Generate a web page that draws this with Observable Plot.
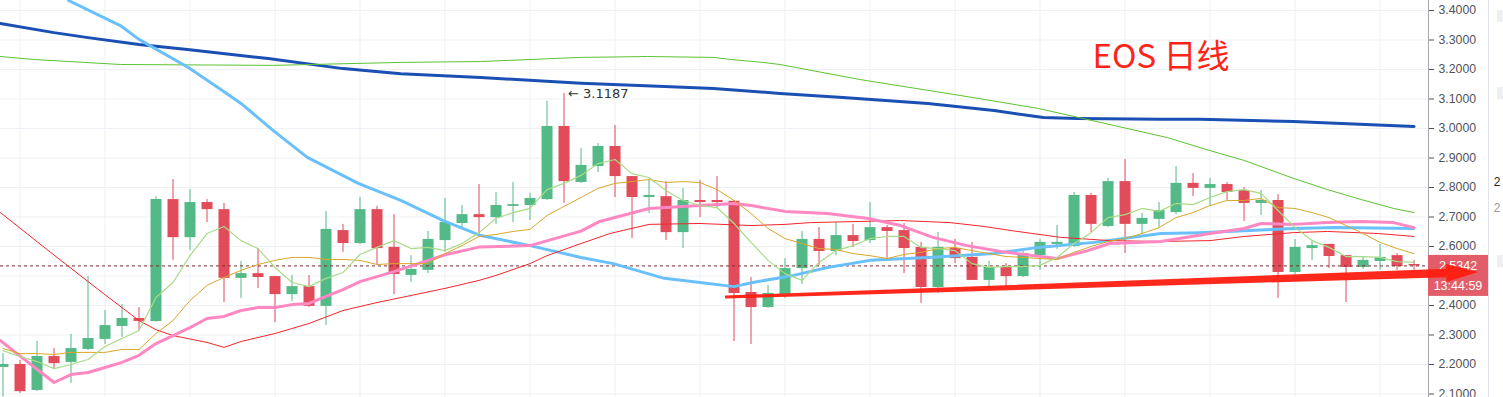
<!DOCTYPE html>
<html><head><meta charset="utf-8">
<script src="https://cdn.jsdelivr.net/npm/d3@7"></script>
<script src="https://cdn.jsdelivr.net/npm/@observablehq/plot@0.6"></script>
<style>
html,body{margin:0;padding:0;background:#fff;overflow:hidden}
#chart svg{display:block}
</style></head><body><div id="chart"></div>
<script>
// ---- Daily candles (index 0..83) ----
const openP  = [2.190,2.200,2.112,2.227,2.207,2.251,2.285,2.329,2.356,2.346,
                2.759,2.630,2.749,2.725,2.492,2.508,2.498,2.437,2.464,2.397,
                2.654,2.610,2.725,2.597,2.502,2.519,2.620,2.678,2.708,2.698,
                2.736,2.739,2.759,3.007,2.817,2.871,2.939,2.837,2.766,2.769,
                2.647,2.756,2.756,2.753,2.444,2.393,2.437,2.525,2.624,2.583,
                2.637,2.620,2.664,2.654,2.597,2.461,2.593,2.563,2.485,2.529,
                2.498,2.569,2.607,2.600,2.773,2.668,2.820,2.675,2.692,2.715,
                2.814,2.797,2.810,2.790,2.746,2.756,2.512,2.593,2.607,2.569,
                2.529,2.549,2.569,2.539];
const highP  = [2.237,2.214,2.278,2.254,2.302,2.498,2.383,2.403,2.393,2.769,
                2.827,2.793,2.759,2.746,2.549,2.593,2.498,2.502,2.502,2.719,
                2.675,2.766,2.736,2.708,2.569,2.651,2.763,2.739,2.810,2.783,
                2.817,2.780,3.092,3.1187,2.932,2.949,3.010,2.837,2.827,2.820,
                2.797,2.824,2.837,2.756,2.495,2.468,2.559,2.651,2.664,2.681,
                2.675,2.749,2.671,2.678,2.614,2.647,2.624,2.614,2.549,2.542,
                2.583,2.624,2.671,2.783,2.780,2.831,2.895,2.712,2.749,2.871,
                2.847,2.831,2.817,2.800,2.790,2.776,2.624,2.620,2.607,2.569,
                2.566,2.607,2.576,2.553];
const lowP   = [2.090,2.102,2.108,2.186,2.136,2.247,2.268,2.292,2.315,2.343,
                2.553,2.586,2.681,2.410,2.424,2.458,2.342,2.414,2.393,2.332,
                2.580,2.607,2.536,2.437,2.478,2.508,2.580,2.664,2.637,2.675,
                2.681,2.688,2.756,2.746,2.814,2.851,2.766,2.627,2.712,2.620,
                2.593,2.698,2.732,2.278,2.268,2.390,2.424,2.471,2.536,2.569,
                2.597,2.610,2.559,2.508,2.407,2.441,2.542,2.485,2.461,2.461,
                2.495,2.519,2.590,2.597,2.647,2.664,2.576,2.641,2.664,2.708,
                2.769,2.736,2.756,2.685,2.705,2.424,2.502,2.553,2.525,2.410,
                2.522,2.519,2.519,2.519];
const closeP = [2.200,2.108,2.227,2.203,2.254,2.288,2.332,2.356,2.346,2.759,
                2.630,2.749,2.725,2.492,2.508,2.495,2.437,2.464,2.397,2.658,
                2.610,2.725,2.593,2.505,2.522,2.624,2.681,2.708,2.698,2.739,
                2.742,2.763,3.007,2.820,2.875,2.939,2.837,2.766,2.773,2.647,
                2.756,2.749,2.749,2.441,2.393,2.441,2.525,2.624,2.583,2.637,
                2.617,2.664,2.651,2.593,2.461,2.597,2.559,2.485,2.529,2.498,
                2.576,2.614,2.614,2.773,2.675,2.820,2.675,2.695,2.722,2.814,
                2.797,2.810,2.783,2.746,2.756,2.512,2.597,2.603,2.566,2.529,
                2.553,2.563,2.532,2.5342];

// ---- Moving averages ----
const ma5 = [2.247,2.227,2.210,2.186,2.200,2.217,2.261,2.288,2.315,2.427,
             2.478,2.569,2.644,2.668,2.620,2.593,2.529,2.478,2.464,2.492,
             2.512,2.573,2.597,2.620,2.593,2.597,2.586,2.610,2.647,2.695,
             2.715,2.729,2.793,2.814,2.841,2.881,2.895,2.847,2.834,2.790,
             2.756,2.739,2.732,2.678,2.614,2.553,2.508,2.485,2.546,2.586,
             2.603,2.627,2.634,2.634,2.597,2.593,2.586,2.542,2.529,2.532,
             2.532,2.536,2.563,2.610,2.647,2.698,2.708,2.729,2.719,2.746,
             2.742,2.766,2.786,2.793,2.780,2.722,2.664,2.620,2.597,2.566,
             2.566,2.563,2.549,2.546];
const ma10 = [2.254,2.237,2.237,2.234,2.241,2.241,2.241,2.251,2.251,2.305,
              2.349,2.417,2.468,2.495,2.519,2.539,2.553,2.563,2.563,2.556,
              2.556,2.553,2.539,2.542,2.542,2.542,2.576,2.603,2.634,2.641,
              2.651,2.658,2.705,2.736,2.766,2.797,2.814,2.820,2.827,2.817,
              2.820,2.817,2.793,2.756,2.712,2.661,2.627,2.610,2.593,2.590,
              2.576,2.569,2.559,2.573,2.580,2.593,2.597,2.586,2.576,2.566,
              2.563,2.559,2.556,2.580,2.600,2.617,2.627,2.644,2.664,2.698,
              2.715,2.739,2.756,2.756,2.763,2.732,2.729,2.715,2.698,2.671,
              2.644,2.614,2.593,2.576];
const ma20 = [[-0.15,2.281],[3,2.139],[4,2.166],[5,2.173],[6,2.190],[7,2.207],[8,2.231],
              [9,2.271],[10,2.298],[11,2.325],[12,2.356],[13,2.363],[14,2.383],[15,2.393],
              [16,2.393],[17,2.403],[18,2.407],[19,2.431],[20,2.454],[21,2.481],[22,2.498],
              [23,2.515],[25,2.553],[26,2.572],[28,2.598],[31,2.603],[34,2.652],[35.1,2.685],
              [38,2.729],[39,2.732],[42,2.742],[43,2.746],[44,2.739],[46,2.719],[48.5,2.712],
              [50.9,2.695],[52.8,2.671],[54.7,2.631],[56.7,2.603],[58.7,2.583],[62,2.559],
              [63.8,2.586],[65.1,2.610],[68.1,2.617],[71,2.644],[73,2.661],[74,2.678],
              [75.9,2.675],[77.9,2.681],[79.9,2.685],[81.8,2.681],[83,2.664]];
const ma30 = [[-0.15,2.715],[2.8,2.580],[5.9,2.441],[8,2.349],[9,2.318],[10,2.298],[12,2.275],
              [13,2.258],[14,2.278],[16,2.305],[18,2.339],[20,2.383],[22,2.410],[24,2.434],
              [26,2.458],[28,2.485],[29,2.502],[31,2.542],[32,2.569],[34,2.610],[35.7,2.644],
              [38,2.675],[41,2.678],[44,2.671],[46,2.675],[47.5,2.681],[52.8,2.688],[55.7,2.681],
              [57.7,2.668],[59.3,2.654],[62.2,2.631],[65.1,2.620],[68.1,2.617],[71,2.620],
              [73,2.634],[75.9,2.647],[77.9,2.651],[80.9,2.644],[83,2.634]];
const ma60 = [[3.85,3.434],[6.9,3.349],[8,3.302],[10.9,3.207],[12.9,3.129],[14,3.085],
              [15.9,2.993],[17.9,2.902],[20.9,2.814],[23.4,2.756],[25.9,2.688],[28.1,2.637],
              [31,2.603],[34,2.563],[35.9,2.542],[38.9,2.492],[41,2.478],[43,2.464],[44.1,2.478],
              [46.5,2.502],[48.5,2.529],[51,2.553],[54.4,2.563],[58.3,2.576],[60.9,2.597],
              [64.2,2.614],[68.1,2.644],[70.4,2.647],[75.9,2.661],[78.3,2.664],[83,2.661]];
const ma120 = [[-0.15,3.244],[1.8,3.234],[6.9,3.217],[15.9,3.214],[23.4,3.224],[28.1,3.227],
               [34,3.241],[37.9,3.244],[41.8,3.241],[42.8,3.234],[44.7,3.224],[45.7,3.217],
               [50.4,3.166],[56.3,3.112],[60.9,3.068],[64.6,3.020],[68.5,2.969],[71,2.925],
               [73,2.892],[75.9,2.831],[77.9,2.793],[79.9,2.759],[81.8,2.729],[83,2.715]];
const ma200 = [[-0.15,3.356],[3,3.325],[5,3.308],[8,3.285],[10.85,3.268],[15.6,3.237],
               [20,3.203],[23.4,3.186],[28.1,3.173],[34,3.153],[38.9,3.142],[41.8,3.136],
               [45.7,3.119],[49.4,3.105],[54.4,3.085],[58.3,3.061],[61.2,3.037],[63.2,3.034],
               [68.1,3.031],[70.4,3.031],[75.9,3.024],[83,3.007]];

// ---- Annotations / ticks ----
const trendLine = [[42.5,2.427],[86.8,2.512]];
const yTicks = [2.1,2.2,2.3,2.4,2.5,2.6,2.7,2.8,2.9,3.0,3.1,3.2,3.3,3.4];
const gridIdx = [1,6,11,16,21,26,31,36,41,46,51,56,61,66,71,76,81];
const highMark = [{i:33, v:3.1187}];
const titleText = ["EOS 日线"];
const lastClose = closeP[closeP.length-1];
const timerText = "13:44:59";

const UP = "#53b987", DOWN = "#e14b5a";
const candles = openP.map((o,i)=>({i, open:o, high:highP[i], low:lowP[i], close:closeP[i], up: closeP[i] >= o}));
const xDomain = [-0.147, 83.85];
const pt = {x: d=>d[0], y: d=>d[1], strokeLinejoin:"round", strokeLinecap:"round"};
const series = arr => arr.map((v,i)=>[i,v]);

const chart = Plot.plot({
  width:1503, height:397,
  marginLeft:0, marginRight:75, marginTop:0, marginBottom:0,
  x:{domain:xDomain, axis:null},
  y:{domain:[2.08814, 3.43390], axis:null},
  style:{background:"#fff", fontFamily:"'Liberation Sans', Arial, sans-serif"},
  marks:[
    Plot.gridY(yTicks, {stroke:"#eef1f5", strokeOpacity:1}),
    Plot.gridX(gridIdx, {stroke:"#eef1f5", strokeOpacity:1}),
    Plot.ruleX(candles, {filter:d=>d.up, x:"i", y1:"low", y2:"high", stroke:UP, strokeWidth:1}),
    Plot.ruleX(candles, {filter:d=>!d.up, x:"i", y1:"low", y2:"high", stroke:DOWN, strokeWidth:1}),
    Plot.ruleX(candles, {filter:d=>d.up, x:"i", y1:"open", y2:"close", stroke:UP, strokeWidth:11}),
    Plot.ruleX(candles, {filter:d=>!d.up, x:"i", y1:"open", y2:"close", stroke:DOWN, strokeWidth:11}),
    Plot.ruleY([lastClose], {stroke:"#7d2b2b", strokeDasharray:"3,3", strokeWidth:1}),
    Plot.line(ma200, {...pt, stroke:"#1a4fb3", strokeWidth:3}),
    Plot.line(ma120, {...pt, stroke:"#5cc232", strokeWidth:1}),
    Plot.line(ma60,  {...pt, stroke:"#6ac0fb", strokeWidth:3}),
    Plot.line(ma30,  {...pt, stroke:"#f0262c", strokeWidth:1}),
    Plot.line(ma20,  {...pt, stroke:"#ff88c2", strokeWidth:3}),
    Plot.line(series(ma10), {...pt, stroke:"#d9a82a", strokeWidth:1}),
    Plot.line(series(ma5),  {...pt, stroke:"#a8dc86", strokeWidth:1.2}),
    Plot.text(highMark, {x:"i", y:"v", text:d=>"← "+d.v.toFixed(4), dx:4, textAnchor:"start",
      fill:"#333", fontSize:13, fontFamily:"'DejaVu Sans', sans-serif"}),
    Plot.text(titleText, {frameAnchor:"top-left", dx:1092, dy:57, textAnchor:"start", lineAnchor:"middle",
      fill:"#ff2418", fontSize:33, fontFamily:"'Noto Sans CJK SC', sans-serif"}),
    Plot.ruleX([xDomain[1]], {stroke:"#a8a8a8", strokeWidth:1}),
    Plot.axisY(yTicks, {anchor:"right", tickSize:5, tickPadding:5, tickFormat:d=>d.toFixed(4),
      color:"#505358", fontSize:12.3, label:null})
  ]
});
document.getElementById("chart").appendChild(chart);

// ---- overlay pieces positioned through the plot's scales ----
const sx = chart.scale("x").apply, sy = chart.scale("y").apply;
const svg = d3.select(chart);
const xr = sx(xDomain[1]);
const yl = sy(lastClose);

// price label box (covers the tick label beneath it, as in the original)
const g = svg.append("g");
g.append("rect").attr("x", xr).attr("y", yl - 10.5).attr("width", 60).attr("height", 41)
  .attr("fill", "#e25d6a");
g.append("text").attr("x", xr + 30).attr("y", yl).attr("dy", "0.35em").attr("text-anchor", "middle")
  .attr("fill", "#fff").attr("font-size", 12.5).attr("font-family", "'Liberation Sans', Arial, sans-serif")
  .text(lastClose.toFixed(4));
g.append("text").attr("x", xr + 30).attr("y", yl + 20.5).attr("dy", "0.35em").attr("text-anchor", "middle")
  .attr("fill", "#fff").attr("font-size", 12.5).attr("font-family", "'Liberation Sans', Arial, sans-serif")
  .text(timerText);

// hand-drawn trend arrow (tapered shaft + filled head)
{
  const [a, b] = trendLine;
  const x1 = sx(a[0]), y1 = sy(a[1]), x2 = sx(b[0]), y2 = sy(b[1]);
  const len = Math.hypot(x2 - x1, y2 - y1);
  const ux = (x2 - x1) / len, uy = (y2 - y1) / len, nx = -uy, ny = ux;
  const headLen = 32, bx = x2 - ux * headLen, by = y2 - uy * headLen;
  const P = (x, y, w) => [[x + nx * w, y + ny * w], [x - nx * w, y - ny * w]];
  const [s1, s2] = P(x1, y1, 1.5), [m1, m2] = P(bx, by, 4.2), [h1, h2] = P(bx, by, 9);
  const pts = [s1, m1, h1, [x2, y2], h2, m2, s2];
  svg.append("polygon").attr("points", pts.map(p => p.join(",")).join(" "))
    .attr("fill", "#ff1c10").attr("fill-opacity", 0.95);
}

// neighbouring panel edge (cut off at the right)
const side = svg.append("g");
side.append("line").attr("x1", 1488.5).attr("x2", 1488.5).attr("y1", 0).attr("y2", 397).attr("stroke", "#e0e3eb");
[[10, 12], [87, 12], [255, 12]].forEach(([y, h]) =>
  side.append("rect").attr("x", 1497).attr("y", y).attr("width", 8).attr("height", h).attr("fill", "#eeeff2"));
side.append("text").attr("x", 1497).attr("y", 182).attr("dy", "0.35em").attr("fill", "#222")
  .attr("font-size", 12).attr("font-family", "'Liberation Sans', Arial").text("2");
side.append("text").attr("x", 1497).attr("y", 208).attr("dy", "0.35em").attr("fill", "#999")
  .attr("font-size", 12).attr("font-family", "'Liberation Sans', Arial").text("2");
</script></body></html>
